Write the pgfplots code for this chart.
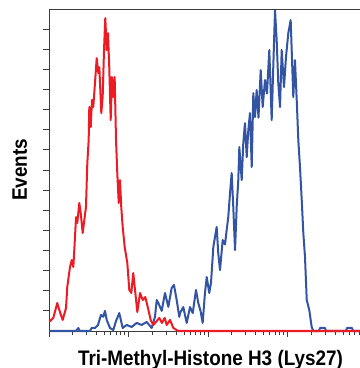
\documentclass[border=0pt]{standalone}
\usepackage{pgfplots}
\pgfplotsset{compat=1.18}
\usepackage{pgfplotstable}
\usepackage{fontspec}
\setmainfont{Liberation Sans}
\newfontfamily\labfont[FakeStretch=0.9]{Liberation Sans}
\definecolor{cred}{RGB}{237,28,36}
\definecolor{cblue}{RGB}{51,83,163}
\definecolor{axgray}{RGB}{60,60,60}

% lx = log10 of fluorescence intensity, c = events
\pgfplotstableread{
lx c
0.004 4.6
0.054 6.5
0.104 13.9
0.138 9.4
0.172 5.5
0.214 11.4
0.230 21.9
0.264 31.8
0.286 35.3
0.306 31.8
0.323 43.7
0.340 56.6
0.356 53.7
0.381 63.6
0.399 58.6
0.424 48.7
0.449 56.6
0.465 61.6
0.482 83.5
0.499 94.9
0.507 111.3
0.525 101.3
0.541 114.8
0.557 111.3
0.575 121.2
0.600 135.6
0.620 128.2
0.633 131.1
0.658 108.3
0.675 116.2
0.692 139.6
0.708 155.5
0.726 139.6
0.742 148.0
0.758 131.1
0.776 104.8
0.792 126.2
0.809 116.2
0.826 126.2
0.843 94.9
0.859 78.5
0.877 63.6
0.893 75.0
0.909 61.6
0.927 51.7
0.952 41.7
0.985 33.8
1.010 20.4
1.035 18.9
1.060 28.8
1.086 18.9
1.111 9.4
1.145 18.9
1.179 15.4
1.211 16.9
1.245 11.4
1.279 5.5
1.312 3.0
1.346 4.5
1.387 6.5
1.421 4.0
1.455 6.5
1.481 3.0
1.522 5.5
1.564 1.5
1.606 0.5
1.623 0
3.912 0
}\redtable

\pgfplotstableread{
lx c
0.000 0
0.340 0
0.369 1.5
0.384 0
0.516 0
0.537 1.5
0.579 1.5
0.616 3
0.654 8
0.683 7.1
0.704 10
0.726 5.5
0.767 1.5
0.809 0.5
0.843 5
0.884 8.9
0.927 1.5
0.977 3
1.040 2
1.103 4
1.166 3
1.229 4.5
1.292 1.5
1.333 7
1.355 15.4
1.375 13.9
1.418 10
1.459 18.9
1.501 12
1.543 21.4
1.572 22.9
1.606 15.4
1.639 7
1.648 8.9
1.689 11.9
1.732 4
1.774 11.9
1.808 8.9
1.849 20.4
1.878 13.9
1.906 10
1.933 4
1.962 18.9
1.984 26.8
2.016 18.9
2.038 24
2.067 41.7
2.109 51.7
2.129 38.7
2.151 30.3
2.185 45.2
2.214 43
2.235 50.2
2.255 56.6
2.277 68.5
2.298 78.5
2.318 61.6
2.340 40.2
2.361 61.6
2.381 75
2.394 91.4
2.424 75
2.444 93.4
2.465 103.3
2.487 86.4
2.507 99.8
2.528 108.3
2.550 81.5
2.570 118.2
2.591 106.3
2.612 119.7
2.635 106
2.663 129.6
2.688 111.3
2.717 124.7
2.742 118
2.771 139.6
2.801 104.8
2.821 131.1
2.843 159.4
2.864 144.5
2.884 123.2
2.906 111.3
2.927 139.6
2.956 121.2
2.981 136.1
3.010 148
3.040 154.5
3.057 134.6
3.073 116.2
3.094 134.6
3.116 114.8
3.136 94.9
3.157 81.5
3.179 65.1
3.199 48.7
3.220 36.8
3.242 15.4
3.274 10.4
3.304 2
3.325 0
3.396 0
3.409 1.5
3.472 1.5
3.484 0
3.736 0
3.748 1.5
3.811 1.5
3.824 0
3.912 0
}\bluetable

\begin{document}
\begin{tikzpicture}
\begin{axis}[
  scale only axis, width=311bp, height=322bp,
  xmode=log, xmin=1, xmax=8166, ymin=0, ymax=160,
  axis x line=bottom, axis y line=left,
  axis line style={-, color=axgray, line width=0.9bp},
  xtick={1,10,100,1000}, xticklabels={},
  minor xtick={2,3,4,5,6,7,8,9,20,30,40,50,60,70,80,90,200,300,400,500,600,700,800,900,2000,3000,4000,5000,6000,7000,8000},
  ytick={10,20,...,150}, yticklabels={},
  tick align=outside,
  major tick length=6bp, minor tick length=4bp,
  every tick/.style={axgray, line width=0.9bp},
  xlabel={\labfont\bfseries\fontsize{21bp}{22bp}\selectfont Tri-Methyl-Histone H3 (Lys27)},
  xlabel style={at={(axis description cs:0.5,0)}, anchor=base, yshift=-34bp, xshift=6bp, inner sep=0pt},
  clip=false,
]
\addplot[cblue, line width=2bp, line join=round] table[x expr={10^\thisrow{lx}}, y=c]{\bluetable};
\addplot[cred, line width=2bp, line join=round] table[x expr={10^\thisrow{lx}}, y=c]{\redtable};
\draw[axgray, line width=0.9bp] (rel axis cs:0,1) -- (rel axis cs:1,1);
\node[rotate=90, anchor=base, inner sep=0pt] at ([xshift=-22bp]rel axis cs:0,0.5) {\labfont\bfseries\fontsize{21bp}{22bp}\selectfont Events};
\coordinate (ll) at (rel axis cs:0,0);
\coordinate (ur) at (rel axis cs:1,1);
\end{axis}
\pgfresetboundingbox
\path ([shift={(-49bp,-37bp)}]ll) rectangle ([shift={(0bp,9bp)}]ur);
\end{tikzpicture}
\end{document}
